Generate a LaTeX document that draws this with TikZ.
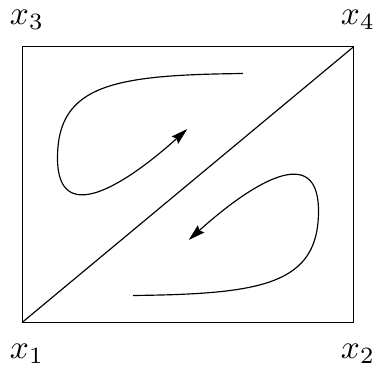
\documentclass[tikz,border=0pt]{standalone}
\usetikzlibrary{arrows.meta}
\begin{document}
\begin{tikzpicture}[x=0.3pt,y=-0.3pt,
  edge/.style={line width=0.35pt},
  flow/.style={line width=0.35pt,-{Stealth[length=5pt,width=2.9pt,inset=0.7pt]}},
  lbl/.style={inner sep=0pt}]
\useasboundingbox (0,0) rectangle (373,377);
\coordinate (c1) at (22.3,322.3);
\coordinate (c2) at (353.7,322.3);
\coordinate (c3) at (22.3,46.7);
\coordinate (c4) at (353.7,46.7);
\draw[edge] (c1) rectangle (c4);
\draw[edge] (c1) -- (c4);
\node[lbl] (x3) at (27,20) {$x_3$};
\node[lbl] (x4) at (358,20) {$x_4$};
\node[lbl] (x1) at (27,354) {$x_1$};
\node[lbl] (x2) at (358,354) {$x_2$};
\draw[flow] (243,73.5) .. controls (115,75) and (57.5,84) .. (57.5,158)
  .. controls (57.5,228) and (125,185) .. (187.3,129);
\draw[flow] (133,295.5) .. controls (261,294) and (318.5,285) .. (318.5,211)
  .. controls (318.5,141) and (251,184) .. (188.7,240);
\end{tikzpicture}
\end{document}
